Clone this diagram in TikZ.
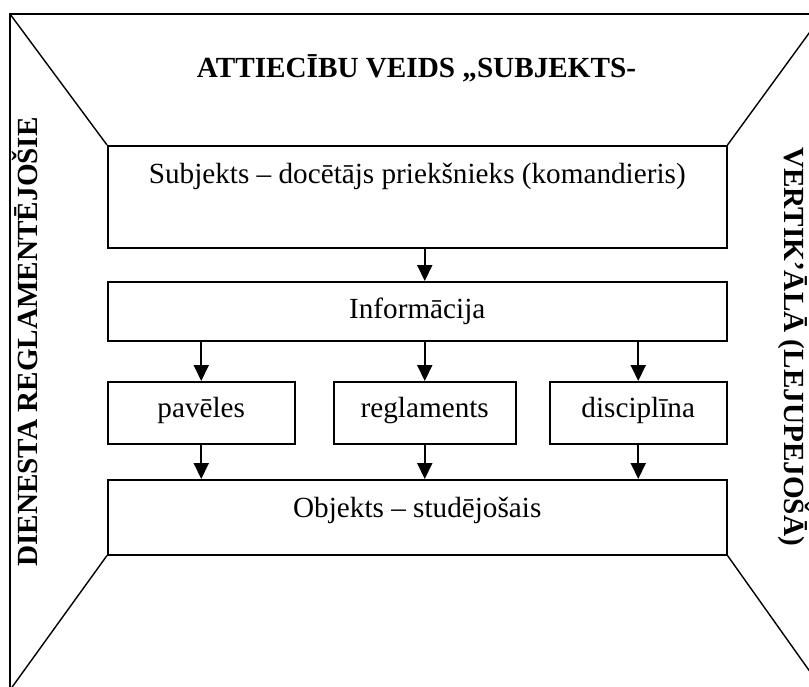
\documentclass[tikz,border=0pt]{standalone}
\usepackage{fontspec}
\setmainfont{Liberation Serif}
\usetikzlibrary{arrows.meta}

\tikzset{
  box/.style={draw, line width=0.75pt, inner sep=0pt, anchor=north west, font=\fontsize{14.6}{17}\selectfont},
  side/.style={inner sep=0pt, anchor=base, font=\fontsize{14.6}{17}\selectfont\bfseries},
  arr/.style={line width=1pt, -{Triangle[width=7.5pt,length=8pt]}},
  frame/.style={line width=0.7pt}
}

\begin{document}
\begin{tikzpicture}[x=0.5pt,y=-0.5pt]
\useasboundingbox (0,0) rectangle (809,686);
\clip (0,0) rectangle (809,686);
% outer frame
\coordinate (tl) at (10,14);
\coordinate (tr) at (823,14);
\coordinate (bl) at (10,690);
\coordinate (br) at (823,690);
% boxes
\node[box, minimum width=309.5pt, text height=19pt, text depth=32pt] (subj) at (107,145) {Subjekts – docētājs priekšnieks (komandieris)};
\node[box, minimum width=309.5pt, text height=18.5pt, text depth=11pt] (info) at (107,281) {Informācija};
\node[box, minimum width=93.5pt, text height=18pt, text depth=13pt] (pav) at (107,381) {pavēles};
\node[box, minimum width=91pt, text height=18pt, text depth=13pt] (regl) at (333,381) {reglaments};
\node[box, minimum width=88.5pt, text height=18pt, text depth=13pt] (disc) at (549,381) {disciplīna};
\node[box, minimum width=309.5pt, text height=19pt, text depth=18.5pt] (obj) at (107,479) {Objekts – studējošais};
% side texts
\node[side] (title) at (416.5,77) {ATTIECĪBU VEIDS „SUBJEKTS-};
\node[side, rotate=90] (left) at (37,342) {DIENESTA REGLAMENTĒJOŠIE};
\node[side, rotate=-90] (right) at (784,346.5) {VERTIK’ĀLĀ (LEJUPEJOŠĀ)};
% frame lines
\draw[frame] (tl) rectangle (br);
\draw[frame] (tl) -- (subj.north west);
\draw[frame] (tr) -- (subj.north east);
\draw[frame] (bl) -- (obj.south west);
\draw[frame] (br) -- (obj.south east);
% arrows
\draw[arr] (subj.south -| regl.north) -- (info.north -| regl.north);
\foreach \b in {pav,regl,disc} {
  \draw[arr] (info.south -| \b.north) -- (\b.north);
  \draw[arr] (\b.south) -- (\b.south |- obj.north);
}
\end{tikzpicture}
\end{document}
